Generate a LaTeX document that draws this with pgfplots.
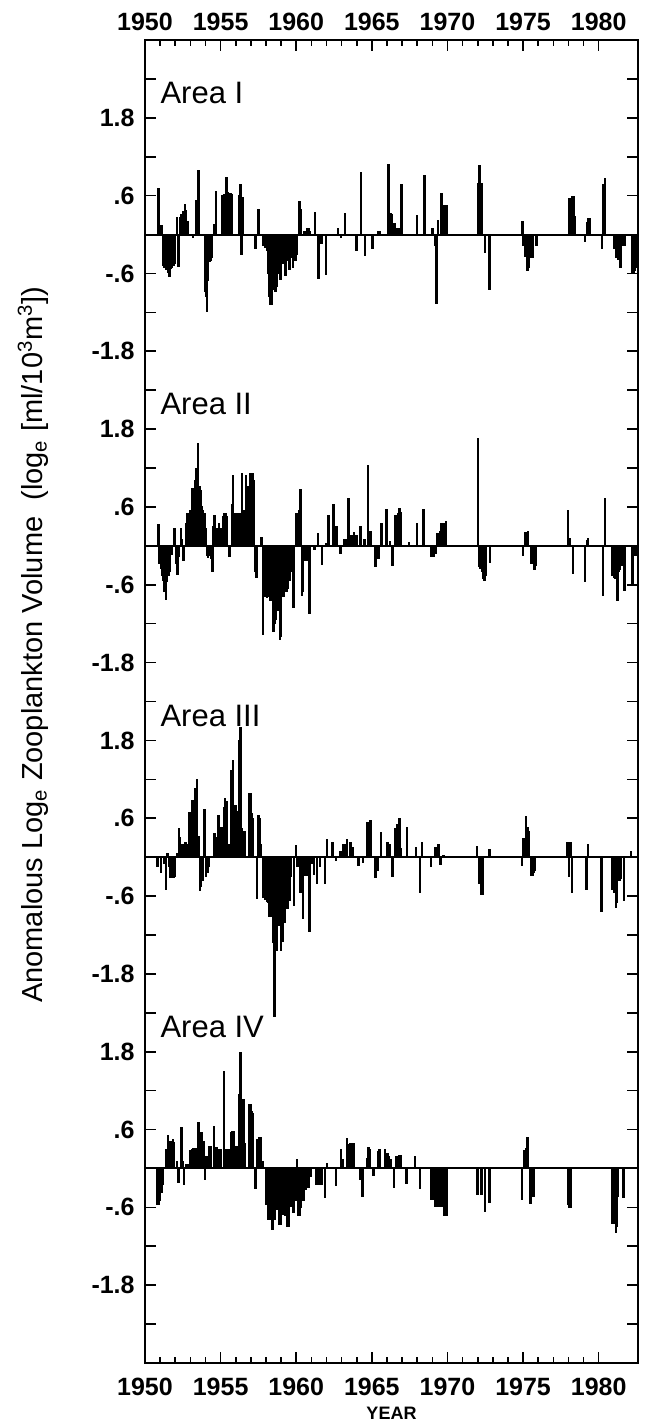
\documentclass[border=0pt]{standalone}
\usepackage{fontspec}
\setmainfont{Liberation Sans}
\usepackage{pgfplots}
\pgfplotsset{compat=1.18}
\usepackage{pgfplotstable}

\pgfplotstableread{
x y
1950.88 0.71
1950.96 0.14
1951.04 0.14
1951.13 0.13
1951.21 -0.47
1951.29 -0.50
1951.38 -0.53
1951.46 -0.50
1951.54 -0.58
1951.63 -0.65
1951.71 -0.52
1951.79 -0.50
1951.88 -0.48
1951.96 -0.45
1952.13 0.26
1952.22 -0.49
1952.30 0.26
1952.38 0.30
1952.46 0.22
1952.55 0.36
1952.63 0.46
1952.71 0.37
1952.80 0.20
1953.19 -0.04
1953.40 0.53
1953.53 0.98
1953.96 -0.88
1954.04 -0.95
1954.10 -1.19
1954.18 -0.70
1954.27 -0.42
1954.35 -0.40
1954.44 -0.35
1954.55 0.16
1954.70 0.66
1955.13 0.60
1955.22 0.62
1955.30 0.60
1955.40 0.88
1955.48 0.64
1955.57 0.63
1955.65 0.63
1955.74 0.62
1956.22 0.60
1956.30 0.77
1956.38 -0.31
1956.46 0.57
1957.32 -0.22
1957.52 0.38
1957.80 -0.17
1957.88 -0.17
1957.96 -0.20
1958.05 -0.25
1958.13 -0.60
1958.21 -0.95
1958.30 -1.07
1958.38 -1.07
1958.46 -0.85
1958.55 -0.70
1958.63 -0.88
1958.71 -0.80
1958.80 -0.60
1958.88 -0.55
1958.96 -0.69
1959.05 -0.45
1959.13 -0.30
1959.21 -0.45
1959.30 -0.63
1959.38 -0.40
1959.46 -0.20
1959.55 -0.53
1959.63 -0.30
1959.71 -0.35
1959.80 -0.51
1959.88 -0.25
1959.96 -0.40
1960.05 -0.31
1960.22 0.51
1960.30 0.39
1960.55 0.04
1960.63 0.04
1960.72 0.09
1960.80 0.09
1960.88 0.05
1961.25 0.34
1961.46 -0.68
1961.55 -0.05
1961.63 -0.14
1961.72 -0.14
1961.97 -0.61
1962.75 0.09
1962.97 -0.04
1963.23 0.32
1964.00 -0.24
1964.29 0.95
1964.55 -0.32
1965.05 -0.22
1965.45 0.04
1965.55 0.04
1966.09 1.08
1966.26 0.32
1966.34 0.30
1966.42 0.17
1966.50 0.17
1966.59 0.09
1966.67 0.09
1966.75 0.09
1966.92 0.77
1967.00 0.77
1967.97 0.29
1968.48 0.91
1969.00 0.09
1969.17 -0.16
1969.27 -1.06
1969.38 0.22
1969.60 0.63
1969.70 0.45
1969.78 0.45
1969.87 0.45
1969.95 0.45
1972.05 0.78
1972.13 1.06
1972.22 0.79
1972.30 0.79
1972.47 -0.28
1972.78 -0.85
1974.96 0.20
1975.04 -0.16
1975.13 -0.34
1975.21 -0.30
1975.30 -0.55
1975.38 -0.50
1975.46 -0.36
1975.63 -0.36
1975.88 -0.17
1978.08 0.56
1978.17 0.56
1978.25 0.59
1978.33 0.59
1978.42 0.27
1979.09 -0.10
1979.23 0.19
1979.32 0.24
1979.40 0.24
1980.21 -0.21
1980.33 0.77
1980.42 0.87
1981.02 -0.21
1981.10 -0.21
1981.19 -0.35
1981.27 -0.39
1981.40 -0.50
1981.48 -0.50
1981.58 -0.17
1981.67 -0.17
1981.75 -0.17
1982.20 -0.60
1982.29 -0.60
1982.38 -0.55
1982.47 -0.50
1982.55 -0.50
}\areaI

\pgfplotstableread{
x y
1950.88 0.33
1950.96 -0.27
1951.05 -0.35
1951.13 -0.45
1951.21 -0.53
1951.30 -0.70
1951.38 -0.83
1951.46 -0.55
1951.55 -0.45
1951.63 -0.40
1951.80 -0.13
1951.95 0.27
1952.05 -0.27
1952.15 -0.44
1952.25 -0.17
1952.37 0.27
1952.45 0.09
1952.55 -0.22
1952.70 0.35
1952.80 0.50
1952.90 0.50
1953.00 0.55
1953.12 0.88
1953.21 0.88
1953.29 1.00
1953.37 1.19
1953.50 1.57
1953.60 0.91
1953.68 0.85
1953.77 0.60
1953.85 0.55
1953.93 0.50
1954.02 0.27
1954.10 -0.15
1954.18 -0.18
1954.27 -0.15
1954.35 -0.20
1954.45 -0.40
1954.53 0.30
1954.60 0.46
1954.70 0.15
1954.78 0.27
1954.90 0.34
1955.05 0.27
1955.15 0.45
1955.25 0.50
1955.33 0.50
1955.42 0.45
1955.55 -0.17
1955.62 -0.17
1955.75 0.64
1955.83 1.09
1955.92 0.50
1956.00 0.50
1956.08 0.45
1956.17 0.50
1956.25 0.50
1956.40 1.11
1956.50 0.55
1956.67 1.09
1956.75 0.92
1956.83 0.92
1956.95 1.12
1957.05 1.12
1957.13 1.12
1957.22 1.00
1957.30 -0.40
1957.38 -0.48
1957.70 0.13
1957.80 -1.37
1957.88 -0.78
1957.96 -0.78
1958.05 -0.80
1958.13 -0.78
1958.21 -0.75
1958.30 -0.84
1958.40 -0.84
1958.50 -1.32
1958.58 -1.20
1958.67 -1.14
1958.75 -1.00
1958.84 -0.90
1958.92 -1.44
1959.00 -1.40
1959.10 -0.78
1959.18 -0.78
1959.27 -0.71
1959.35 -0.71
1959.43 -0.65
1959.52 -0.53
1959.60 -0.53
1959.68 -0.40
1959.83 -0.95
1960.02 0.50
1960.10 0.50
1960.18 0.55
1960.27 0.86
1960.37 -0.76
1960.45 -0.70
1960.58 -0.22
1960.67 -0.22
1960.83 -1.04
1960.92 -1.04
1961.20 -0.05
1961.45 0.19
1961.70 -0.29
1961.98 0.04
1962.12 0.46
1962.45 0.64
1962.62 0.30
1962.70 0.30
1962.92 -0.12
1963.20 0.09
1963.30 0.09
1963.47 0.73
1963.58 0.16
1963.67 0.16
1963.75 0.16
1963.83 0.20
1963.92 0.16
1964.00 0.16
1964.20 0.29
1964.27 0.29
1964.50 0.09
1964.75 1.23
1964.87 0.22
1964.95 0.22
1965.23 -0.32
1965.43 -0.20
1965.65 0.34
1965.98 0.56
1966.20 0.06
1966.38 -0.30
1966.52 0.46
1966.62 0.46
1966.75 0.50
1966.83 0.57
1966.92 0.52
1967.45 0.05
1967.97 0.34
1968.42 0.56
1968.95 -0.17
1969.03 -0.17
1969.12 -0.17
1969.20 -0.12
1969.30 0.19
1969.40 0.19
1969.50 0.22
1969.60 0.34
1969.68 0.35
1969.80 0.35
1969.90 0.38
1972.02 1.65
1972.10 -0.32
1972.18 -0.35
1972.27 -0.40
1972.37 -0.50
1972.45 -0.53
1972.53 -0.45
1972.80 -0.25
1974.98 -0.14
1975.15 0.20
1975.23 0.20
1975.32 0.22
1975.55 -0.27
1975.75 -0.36
1975.83 -0.30
1977.98 0.55
1978.08 0.11
1978.30 -0.43
1979.10 -0.55
1979.22 0.08
1979.30 0.11
1980.27 -0.77
1980.40 0.73
1980.92 -0.45
1981.00 -0.48
1981.08 -0.50
1981.17 -0.48
1981.25 -0.84
1981.33 -0.40
1981.42 -0.36
1981.50 -0.30
1981.70 -0.69
1982.25 -0.59
1982.42 -0.15
}\areaII

\pgfplotstableread{
x y
1950.82 -0.15
1951.05 -0.23
1951.25 -0.10
1951.38 -0.49
1951.50 0.05
1951.58 -0.15
1951.70 -0.31
1951.78 -0.31
1951.88 -0.31
1951.95 -0.30
1952.10 0.05
1952.25 0.44
1952.33 0.30
1952.42 0.20
1952.50 0.18
1952.58 0.20
1952.67 0.22
1952.75 0.20
1952.83 0.18
1952.95 0.69
1953.03 0.69
1953.12 0.87
1953.20 0.87
1953.30 1.05
1953.45 1.20
1953.55 0.31
1953.63 -0.51
1953.72 -0.45
1953.80 -0.36
1953.92 0.73
1954.03 -0.30
1954.12 -0.23
1954.20 -0.15
1954.55 0.36
1954.63 0.36
1954.72 0.30
1954.87 0.64
1954.95 0.45
1955.05 0.45
1955.12 0.45
1955.22 0.76
1955.30 0.90
1955.38 0.85
1955.50 0.20
1955.58 0.20
1955.72 1.33
1955.82 1.49
1955.92 0.80
1956.00 0.80
1956.08 0.70
1956.20 1.79
1956.30 2.00
1956.40 0.44
1956.50 0.26
1956.58 0.40
1956.90 0.98
1956.98 0.98
1957.07 0.67
1957.15 0.60
1957.40 -0.64
1957.50 0.64
1957.58 0.60
1957.66 0.20
1957.80 -0.62
1957.88 -0.62
1957.96 -0.65
1958.05 -0.68
1958.13 -0.70
1958.21 -0.92
1958.30 -0.92
1958.38 -0.92
1958.46 -1.31
1958.55 -2.46
1958.63 -1.44
1958.71 -1.44
1958.80 -1.00
1958.88 -1.05
1959.00 -1.44
1959.08 -1.30
1959.17 -1.00
1959.25 -1.00
1959.33 -0.79
1959.42 -0.79
1959.50 -0.67
1959.58 -0.67
1959.67 -0.30
1959.85 -0.74
1960.00 0.18
1960.08 -0.15
1960.28 -0.54
1960.43 -0.95
1960.52 -0.28
1960.60 -0.28
1960.68 -0.28
1960.88 -1.14
1961.00 -0.10
1961.08 -0.10
1961.17 -0.26
1961.37 -0.41
1961.57 -0.15
1961.92 -0.40
1962.05 0.27
1962.40 0.23
1962.62 -0.05
1962.92 0.08
1963.00 0.08
1963.10 0.19
1963.18 0.19
1963.35 0.27
1963.55 0.22
1963.63 0.22
1963.72 0.15
1964.12 -0.13
1964.43 -0.08
1964.70 0.54
1964.88 0.56
1964.96 0.56
1965.23 -0.31
1965.38 -0.20
1965.62 0.38
1966.05 0.22
1966.20 0.20
1966.38 -0.30
1966.52 0.44
1966.60 0.44
1966.70 0.50
1966.78 0.59
1966.86 0.59
1966.93 0.13
1967.32 0.45
1967.93 0.14
1968.20 -0.54
1968.32 0.22
1968.90 -0.15
1969.18 0.14
1969.27 0.14
1969.40 0.20
1969.55 -0.11
1969.70 0.03
1969.78 0.03
1971.95 0.17
1972.08 -0.40
1972.17 -0.40
1972.25 -0.57
1972.33 -0.57
1972.77 0.11
1974.92 -0.13
1975.02 0.28
1975.18 0.63
1975.30 0.45
1975.38 0.40
1975.53 -0.28
1975.61 -0.28
1975.70 -0.23
1975.78 -0.20
1977.95 0.23
1978.03 -0.30
1978.15 0.22
1978.23 -0.54
1979.18 -0.49
1979.30 0.19
1980.20 -0.83
1980.88 -0.49
1980.97 -0.49
1981.05 -0.55
1981.13 -0.78
1981.22 -0.70
1981.32 -0.36
1981.40 -0.36
1981.48 -0.33
1981.67 -0.67
1982.15 0.08
}\areaIII

\pgfplotstableread{
x y
1950.82 -0.55
1950.90 -0.55
1950.98 -0.50
1951.08 -0.37
1951.17 -0.25
1951.42 0.29
1951.52 0.51
1951.68 0.42
1951.77 0.42
1951.85 0.45
1951.93 0.40
1952.10 0.11
1952.20 -0.21
1952.40 0.63
1952.50 0.11
1952.58 -0.25
1952.72 0.06
1952.80 0.06
1952.88 0.06
1953.02 0.27
1953.12 0.29
1953.20 0.30
1953.28 0.29
1953.36 0.30
1953.55 0.71
1953.65 0.55
1953.73 0.55
1953.82 0.42
1953.90 0.42
1953.98 -0.17
1954.07 0.19
1954.25 0.34
1954.33 0.34
1954.55 0.65
1954.63 0.32
1954.72 0.32
1954.83 0.29
1954.92 0.29
1955.00 0.29
1955.22 1.50
1955.32 0.29
1955.40 0.29
1955.48 0.29
1955.56 0.29
1955.70 0.55
1955.78 0.57
1955.87 0.57
1956.00 0.34
1956.10 0.34
1956.22 1.14
1956.33 1.78
1956.45 1.06
1956.53 1.06
1956.62 0.39
1956.90 0.98
1956.98 0.98
1957.07 0.88
1957.15 0.85
1957.30 -0.31
1957.45 0.45
1957.55 0.47
1957.63 0.47
1957.80 0.11
1958.00 -0.55
1958.08 -0.55
1958.17 -0.78
1958.25 -0.78
1958.40 -0.94
1958.48 -0.94
1958.60 -0.78
1958.70 -0.63
1958.78 -0.63
1958.90 -0.86
1958.98 -0.86
1959.08 -0.71
1959.17 -0.71
1959.25 -0.73
1959.43 -0.90
1959.52 -0.90
1959.62 -0.58
1959.70 -0.58
1959.78 -0.68
1959.87 -0.68
1959.95 -0.50
1960.05 0.14
1960.13 -0.73
1960.22 -0.73
1960.30 -0.60
1960.38 -0.50
1960.47 -0.50
1960.55 -0.32
1960.63 -0.32
1960.72 -0.30
1960.80 -0.30
1960.90 -0.13
1960.98 -0.13
1961.35 -0.25
1961.43 -0.25
1961.52 -0.25
1961.60 -0.25
1961.68 -0.25
1961.92 -0.45
1962.03 0.08
1962.62 -0.26
1962.95 0.29
1963.08 0.14
1963.35 0.46
1963.45 0.37
1963.55 0.39
1963.63 0.39
1963.72 0.39
1963.80 0.39
1964.22 -0.17
1964.38 -0.43
1964.68 0.15
1964.78 0.32
1964.87 0.29
1965.12 -0.11
1965.42 0.26
1965.52 0.29
1965.88 0.29
1965.97 0.23
1966.05 0.23
1966.13 0.18
1966.22 0.14
1966.45 -0.30
1966.62 0.18
1966.80 0.20
1966.90 0.20
1967.30 -0.23
1967.85 0.19
1968.20 -0.31
1968.93 -0.48
1969.02 -0.48
1969.10 -0.48
1969.18 -0.59
1969.27 -0.59
1969.35 -0.59
1969.43 -0.58
1969.52 -0.58
1969.60 -0.58
1969.68 -0.58
1969.77 -0.72
1969.85 -0.72
1969.93 -0.72
1971.98 -0.40
1972.25 -0.40
1972.47 -0.66
1972.78 -0.52
1974.92 -0.47
1975.10 0.27
1975.18 0.30
1975.30 0.47
1975.48 -0.54
1975.62 -0.43
1975.70 -0.43
1978.00 -0.55
1978.08 -0.60
1978.17 -0.60
1980.88 -0.84
1980.97 -0.84
1981.05 -0.84
1981.13 -0.99
1981.20 -0.90
1981.28 -0.43
1981.60 -0.45
1981.68 -0.45
}\areaIV

\tikzset{
  tlab/.style={font=\bfseries\fontsize{12.5}{14}\selectfont},
  alab/.style={anchor=base west, inner sep=0pt, font=\fontsize{15.5}{18}\selectfont},
}
\pgfplotsset{
  panel/.style={scale only axis, width=246.5pt, height=661.5pt,
    xmin=1950, xmax=1982.6, hide axis, clip=true},
  bars/.style={ybar, bar width=0.0833, fill=black, draw=black, line width=0.6pt},
}

\begin{document}
\begin{tikzpicture}
% Area I (offset 14.4)
\begin{axis}[panel, ymin=-17.4, ymax=3.0]
\addplot[bars] table[x=x,y=y] {\areaI};
\end{axis}
% Area II (offset 9.6)
\begin{axis}[panel, ymin=-12.6, ymax=7.8]
\addplot[bars] table[x=x,y=y] {\areaII};
\end{axis}
% Area III (offset 4.8)
\begin{axis}[panel, ymin=-7.8, ymax=12.6]
\addplot[bars] table[x=x,y=y] {\areaIII};
\end{axis}
% Area IV (offset 0)
\begin{axis}[panel, ymin=-3.0, ymax=17.4]
\addplot[bars] table[x=x,y=y] {\areaIV};
\end{axis}
% top tick labels
\begin{axis}[scale only axis, width=246.5pt, height=661.5pt,
  xmin=1950, xmax=1982.6, ymin=0, ymax=1,
  axis x line*=top, axis y line=none, axis line style={draw=none},
  xtick={1950,1955,1960,1965,1970,1975,1980},
  xticklabels={1950,1955,1960,1965,1970,1975,1980},
  major tick length=0pt, minor tick length=0pt,
  xticklabel style={tlab, inner sep=0pt, yshift=4.5pt}]
\end{axis}
% main frame
\begin{axis}[scale only axis, width=246.5pt, height=661.5pt,
  xmin=1950, xmax=1982.6, ymin=-3.0, ymax=17.4,
  xtick={1950,1955,1960,1965,1970,1975,1980},
  xticklabels={1950,1955,1960,1965,1970,1975,1980},
  minor x tick num=4,
  ytick={-2.4,-1.8,-1.2,-0.6,0,0.6,1.2,1.8,2.4,3.0,3.6,4.2,4.8,5.4,6.0,6.6,7.2,7.8,8.4,9.0,9.6,10.2,10.8,11.4,12.0,12.6,13.2,13.8,14.4,15.0,15.6,16.2,16.8},
  yticklabels={{},{-1.8},{},{-.6},{},{.6},{},{1.8},{},{-1.8},{},{-.6},{},{.6},{},{1.8},{},{-1.8},{},{-.6},{},{.6},{},{1.8},{},{-1.8},{},{-.6},{},{.6},{},{1.8},{}},
  extra y ticks={0,4.8,9.6,14.4}, extra y tick labels={},
  extra y tick style={grid=major},
  major grid style={black, line width=1pt},
  tick align=inside, major tick length=5.5pt, minor tick length=3pt,
  axis line style={line width=1pt},
  tick style={black, line width=0.8pt},
  xticklabel style={tlab, inner sep=0pt, yshift=-7.5pt},
  yticklabel style={tlab, inner sep=0pt, xshift=-5pt},
  xlabel={YEAR},
  xlabel style={font=\bfseries\fontsize{9}{11}\selectfont, at={(axis description cs:0.5,0)}, anchor=center, yshift=-25pt},
  ylabel={Anomalous Log\textsubscript{e} Zooplankton Volume\ \ (log\textsubscript{e} [ml/10\textsuperscript{3}m\textsuperscript{3}])},
  ylabel style={font=\fontsize{14.5}{17}\selectfont, at={(axis description cs:-0.227,0.543)}, anchor=center},
]
\node[alab] at (axis cs:1951.0,16.42) {Area I};
\node[alab] at (axis cs:1951.0,11.62) {Area II};
\node[alab] at (axis cs:1951.0,6.82) {Area III};
\node[alab] at (axis cs:1951.0,2.02) {Area IV};
\end{axis}
\pgfresetboundingbox
\path[use as bounding box] (-72.5pt,-30pt) rectangle (251.5pt,681.5pt);
\end{tikzpicture}
\end{document}
